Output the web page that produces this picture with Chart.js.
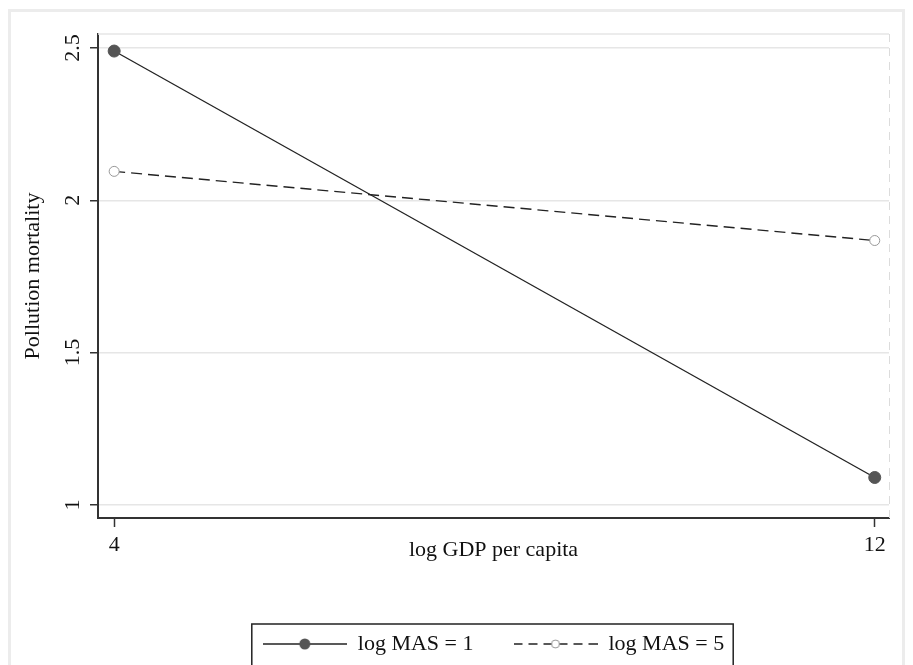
<!DOCTYPE html>
<html>
<head>
<meta charset="utf-8">
<script src="https://cdn.jsdelivr.net/npm/chart.js@4/dist/chart.umd.min.js"></script>
<style>
    html, body { margin: 0; padding: 0; background: #fff; }
    #chart { display: block; }
</style>
</head>
<body>
<canvas id="chart" width="913" height="665"></canvas>
<script>
// values
var gdpValues = [4, 12];
var mas1Values = [2.49, 1.09];
var mas5Values = [2.095, 1.868];
var seriesLabels = ["log MAS = 1", "log MAS = 5"];
var xTickValues = [4, 12];
var yTickValues = [1, 1.5, 2, 2.5];

var FONT = "'Liberation Serif', 'DejaVu Serif', serif";

function toPoints(values) {
    return values.map(function (v, i) {
        return { x: gdpValues[i], y: v };
    });
}

// small canvas used as legend symbol: line with marker in the middle
function legendSymbol(dashed) {
    var c = document.createElement("canvas");
    c.width = 84;
    c.height = 22;
    var g = c.getContext("2d");
    g.strokeStyle = "#222";
    g.lineWidth = 1.3;
    if (dashed) g.setLineDash([9, 6]);
    g.beginPath();
    g.moveTo(0, 11);
    g.lineTo(84, 11);
    g.stroke();
    g.setLineDash([]);
    g.beginPath();
    if (dashed) {
        g.arc(42, 11, 4, 0, Math.PI * 2);
        g.fillStyle = "#fff";
        g.fill();
        g.strokeStyle = "#999";
        g.lineWidth = 1;
        g.stroke();
    } else {
        g.arc(42, 11, 5.5, 0, Math.PI * 2);
        g.fillStyle = "#555";
        g.fill();
    }
    return c;
}

var symbols = [legendSymbol(false), legendSymbol(true)];

// frame, plot region edges and legend box
var framePlugin = {
    id: "frame",
    beforeDraw: function (chart) {
        var ctx = chart.ctx;
        ctx.save();
        ctx.fillStyle = "#fff";
        ctx.fillRect(0, 0, chart.width, chart.height);
        ctx.strokeStyle = "#ececec";
        ctx.lineWidth = 3;
        ctx.strokeRect(9.5, 10.5, 894, 700);
        ctx.restore();
    },
    beforeDatasetsDraw: function (chart) {
        var ctx = chart.ctx;
        var a = chart.chartArea;
        ctx.save();
        ctx.strokeStyle = "#e6e6e6";
        ctx.lineWidth = 1.5;
        ctx.beginPath();
        ctx.moveTo(a.left, a.top);
        ctx.lineTo(a.right, a.top);
        ctx.stroke();
        ctx.setLineDash([8, 6]);
        ctx.lineWidth = 1;
        ctx.strokeStyle = "#dcdcdc";
        ctx.beginPath();
        ctx.moveTo(a.right + 0.5, a.top);
        ctx.lineTo(a.right + 0.5, a.bottom);
        ctx.stroke();
        ctx.restore();
    },
    afterDraw: function (chart) {
        var boxes = chart.legend.legendHitBoxes;
        if (!boxes || !boxes.length) return;
        var first = boxes[0];
        var last = boxes[boxes.length - 1];
        var ctx = chart.ctx;
        ctx.save();
        ctx.strokeStyle = "#222";
        ctx.lineWidth = 1.5;
        ctx.strokeRect(first.left - 11, first.top - 9, last.left + last.width - first.left + 20, 80);
        ctx.restore();
    },
};

new Chart(document.getElementById("chart"), {
    type: "line",
    data: {
        datasets: [
            {
                label: seriesLabels[0],
                data: toPoints(mas1Values),
                borderColor: "#222",
                borderWidth: 1.3,
                pointRadius: 6,
                pointBackgroundColor: "#555",
                pointBorderColor: "#555",
                pointBorderWidth: 1,
            },
            {
                label: seriesLabels[1],
                data: toPoints(mas5Values),
                borderColor: "#222",
                borderWidth: 1.4,
                borderDash: [11, 6],
                pointRadius: 5,
                pointBackgroundColor: "#fff",
                pointBorderColor: "#999",
                pointBorderWidth: 1,
            },
        ],
    },
    plugins: [framePlugin],
    options: {
        responsive: false,
        animation: false,
        layout: { padding: { left: 20, top: 34, right: 24, bottom: 0 } },
        scales: {
            x: {
                type: "linear",
                min: 3.83,
                max: 12.15,
                afterBuildTicks: function (scale) {
                    scale.ticks = xTickValues.map(function (v) { return { value: v }; });
                },
                afterFit: function (scale) { scale.height = 75; },
                grid: { drawOnChartArea: false, tickColor: "#333", tickLength: 9, tickWidth: 1.5 },
                border: { color: "#333", width: 2 },
                ticks: {
                    autoSkip: false,
                    maxRotation: 0,
                    color: "#111",
                    padding: 5,
                    font: { family: FONT, size: 22 },
                    callback: function (v) { return String(v); },
                },
                title: {
                    display: true,
                    text: "log GDP per capita",
                    color: "#111",
                    font: { family: FONT, size: 22 },
                    padding: { top: 0, bottom: 30 },
                },
            },
            y: {
                min: 0.957,
                max: 2.546,
                afterBuildTicks: function (scale) {
                    scale.ticks = yTickValues.map(function (v) { return { value: v }; });
                },
                afterFit: function (scale) { scale.width = 78; },
                grid: { color: "#e6e6e6", lineWidth: 1.5, tickColor: "#333", tickLength: 8, tickWidth: 1.5 },
                border: { color: "#333", width: 2 },
                ticks: {
                    autoSkip: false,
                    minRotation: 90,
                    maxRotation: 90,
                    crossAlign: "center",
                    color: "#111",
                    padding: 3,
                    font: { family: FONT, size: 22 },
                    callback: function (v) { return String(v); },
                },
                title: {
                    display: true,
                    text: "Pollution mortality",
                    color: "#111",
                    font: { family: FONT, size: 22 },
                    padding: { top: 0, bottom: 0 },
                },
            },
        },
        plugins: {
            tooltip: { enabled: false },
            legend: {
                position: "bottom",
                fullSize: false,
                labels: {
                    usePointStyle: true,
                    pointStyleWidth: 84,
                    boxHeight: 22,
                    padding: 40,
                    color: "#111",
                    font: { family: FONT, size: 22 },
                    generateLabels: function (chart) {
                        return chart.data.datasets.map(function (ds, i) {
                            return {
                                text: ds.label,
                                pointStyle: symbols[i],
                                fontColor: "#111",
                                strokeStyle: "transparent",
                                fillStyle: "transparent",
                                lineWidth: 0,
                                hidden: false,
                                datasetIndex: i,
                            };
                        });
                    },
                },
            },
        },
    },
});
</script>
</body>
</html>
